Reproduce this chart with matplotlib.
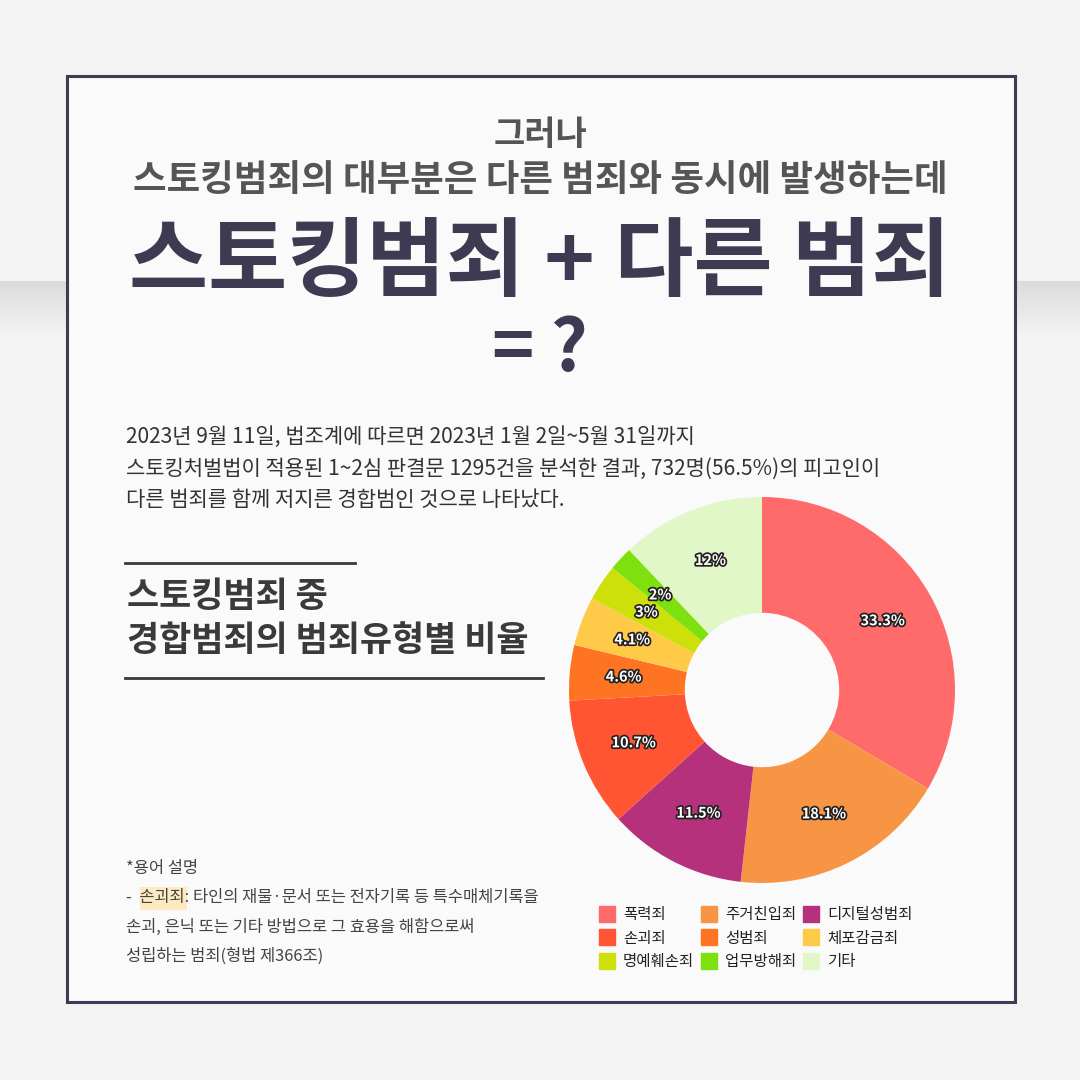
import numpy as np
import matplotlib
matplotlib.use('Agg')
import matplotlib.pyplot as plt
import matplotlib.patheffects as pe
from matplotlib.patches import Rectangle
from matplotlib.lines import Line2D

plt.rcParams['font.family'] = ['Noto Sans CJK KR', 'DejaVu Sans']

# 데이터
labels = ['폭력죄', '주거친입죄', '디지털성범죄', '손괴죄', '성범죄',
          '체포감금죄', '명예훼손죄', '업무방해죄', '기타']
values = [33.3, 18.1, 11.5, 10.7, 4.6, 4.1, 3, 2, 12]
pct_text = ['33.3%', '18.1%', '11.5%', '10.7%', '4.6%', '4.1%', '3%', '2%', '12%']
colors = ['#ff6b6b', '#f79544', '#b5317c', '#ff5533', '#ff7422',
          '#ffca48', '#cde00a', '#7fe010', '#e2f7c8']

title_top = ['그러나', '스토킹범죄의 대부분은 다른 범죄와 동시에 발생하는데']
title_big = ['스토킹범죄 + 다른 범죄', '= ?']
body = ['2023년 9월 11일, 법조계에 따르면 2023년 1월 2일~5월 31일까지',
        '스토킹처벌법이 적용된 1~2심 판결문 1295건을 분석한 결과, 732명(56.5%)의 피고인이',
        '다른 범죄를 함께 저지른 경합범인 것으로 나타났다.']
heading = ['스토킹범죄 중', '경합범죄의 범죄유형별 비율']
note = ['*용어 설명',
        '-  손괴죄: 타인의 재물·문서 또는 전자기록 등 특수매체기록을',
        '손괴, 은닉 또는 기타 방법으로 그 효용을 해함으로써',
        '성립하는 범죄(형법 제366조)']

W = 1080
fig = plt.figure(figsize=(10.8, 10.8), dpi=100)
fig.patch.set_facecolor('#f3f3f3')

bg = fig.add_axes([0, 0, 1, 1])
bg.set_xlim(0, W)
bg.set_ylim(W, 0)
bg.axis('off')

# 뒤쪽 회색 띠
grad = np.linspace(0.86, 0.953, 60).reshape(-1, 1)
bg.imshow(np.dstack([grad] * 3), extent=(0, W, 336, 281), aspect='auto', zorder=0)

# 카드
bg.add_patch(Rectangle((67, 76), 948, 926, facecolor='#fafafa',
                       edgecolor='#3f3b55', lw=2.2, zorder=1))

px = 0.72  # px -> pt
bg.text(540, 135, title_top[0], fontsize=34 * px, color='#555555',
        fontweight='bold', ha='center', va='center', zorder=3)
bg.text(540, 180, title_top[1], fontsize=36.5 * px, color='#555555',
        fontweight='bold', ha='center', va='center', zorder=3)
bg.text(540, 264, title_big[0], fontsize=86 * px, color='#3d3b52',
        fontweight='black', ha='center', va='center', zorder=3)
bg.text(540, 350, title_big[1], fontsize=72 * px, color='#3d3b52',
        fontweight='black', ha='center', va='center', zorder=3)

for i, line in enumerate(body):
    bg.text(126, 437 + i * 31.5, line, fontsize=21 * px, color='#333333',
            fontweight='medium', ha='left', va='center', zorder=3)

bg.plot([125, 355], [563, 563], color='#3a3a3a', lw=2, zorder=3)
bg.plot([125, 543], [678, 678], color='#3a3a3a', lw=2, zorder=3)
for i, line in enumerate(heading):
    bg.text(127, 597 + i * 44, line, fontsize=35 * px, color='#3a3a3a',
            fontweight='black', ha='left', va='center', zorder=3)

bg.add_patch(Rectangle((140, 887), 47, 23, facecolor='#fdeac0',
                       edgecolor='none', zorder=2))
for i, line in enumerate(note):
    bg.text(126, 868 + i * 29.5, line, fontsize=16.5 * px, color='#444444',
            ha='left', va='center', zorder=3)

# 도넛 차트
cx, cy, r = 762, 690, 193
pie_ax = fig.add_axes([(cx - r) / W, 1 - (cy + r) / W, 2 * r / W, 2 * r / W])
wedges, _ = pie_ax.pie(values, colors=colors, startangle=90, counterclock=False,
                       radius=1, wedgeprops=dict(width=0.6, edgecolor='none'))
pie_ax.set_xlim(-1, 1)
pie_ax.set_ylim(-1, 1)
pie_ax.set_aspect('equal')
pie_ax.axis('off')

tot = sum(values)
ang = 90.0
for v, t in zip(values, pct_text):
    mid = np.deg2rad(ang - v / tot * 360 / 2)
    ang -= v / tot * 360
    rr = 0.72
    pie_ax.text(rr * np.cos(mid), rr * np.sin(mid), t, fontsize=14.5 * px,
                color='white', fontweight='bold', ha='center', va='center',
                path_effects=[pe.withStroke(linewidth=2.5, foreground='#222222')])

# 범례 (행 우선 순서)
handles = [Line2D([], [], marker='s', ls='none', markersize=11,
                  markerfacecolor=c, markeredgecolor=c) for c in colors]
order = [0, 3, 6, 1, 4, 7, 2, 5, 8]
leg = bg.legend([handles[i] for i in order], [labels[i] for i in order],
                ncol=3, loc='upper left', bbox_to_anchor=(599 / W, 1 - 906 / W),
                bbox_transform=fig.transFigure, frameon=False,
                fontsize=15.5 * px, handlelength=1.0, handletextpad=0.55,
                columnspacing=0.45, labelspacing=0.42, borderaxespad=0,
                borderpad=0)
for t in leg.get_texts():
    t.set_color('#222222')

fig.savefig('out.png', dpi=100, facecolor=fig.get_facecolor())
